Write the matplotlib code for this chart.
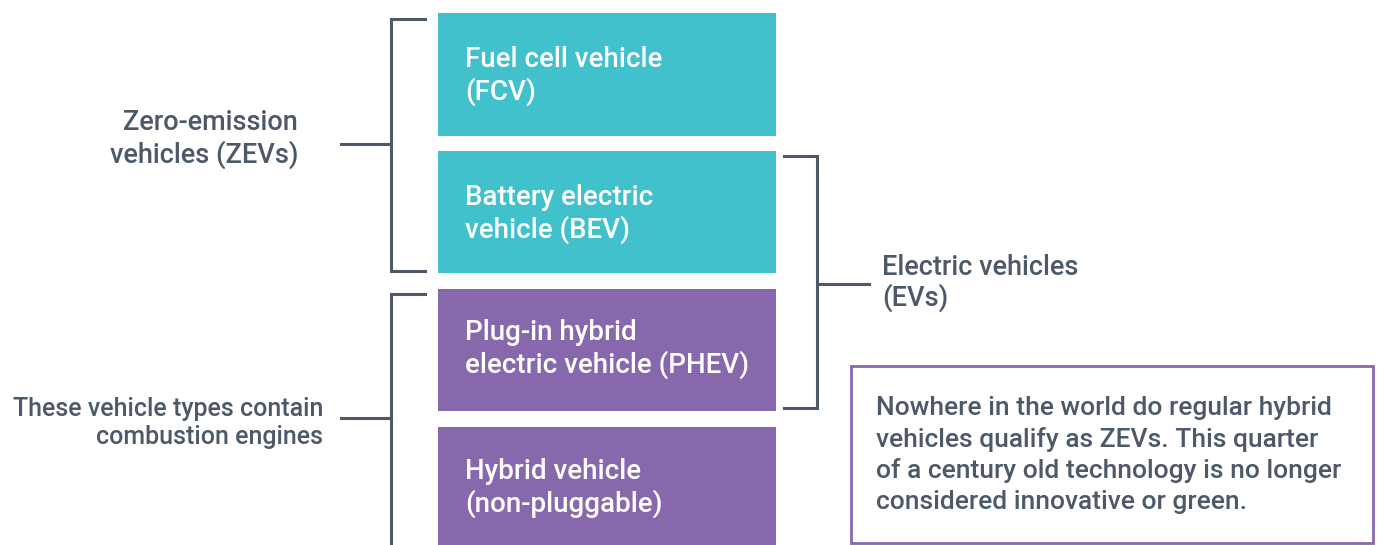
import matplotlib
matplotlib.use("Agg")
import matplotlib.pyplot as plt
from matplotlib.patches import Rectangle

# ---- content ----
box_labels = ["Fuel cell vehicle\n(FCV)",
              "Battery electric\nvehicle (BEV)",
              "Plug-in hybrid\nelectric vehicle (PHEV)",
              "Hybrid vehicle\n(non-pluggable)"]
box_groups = ["zev", "zev", "combustion", "combustion"]
group_colors = {"zev": "#41C1CB", "combustion": "#8868AC"}
zev_label = "Zero-emission\nvehicles (ZEVs)"
combustion_label = "These vehicle types contain\ncombustion engines"
ev_label = "Electric vehicles\n(EVs)"
note_text = ("Nowhere in the world do regular hybrid\n"
             "vehicles qualify as ZEVs. This quarter\n"
             "of a century old technology is no longer\n"
             "considered innovative or green.")

# ---- layout (pixels) ----
W, H = 1377, 545
box_x0, box_x1 = 438, 776
box_tops = [13, 151, 289, 427]
box_bots = [136, 273, 411, 560]
text_centers = [76, 214, 349, 488]
dark = "#4B5969"
font = "Roboto"

fig = plt.figure(figsize=(W / 100, H / 100), dpi=100)
ax = fig.add_axes([0, 0, 1, 1])
ax.set_xlim(0, W)
ax.set_ylim(H, 0)
ax.axis("off")

for lab, grp, t, b, c in zip(box_labels, box_groups, box_tops, box_bots,
                             text_centers):
    ax.add_patch(Rectangle((box_x0, t), box_x1 - box_x0, b - t,
                           facecolor=group_colors[grp], edgecolor="none"))
    ax.text(465, c, lab, color="white", fontsize=20, family=font,
            weight="medium", ha="left", va="center", linespacing=1.22)

lw = 2.2
# ZEV bracket
ax.plot([425, 391, 391, 425], [19, 19, 271, 271], color=dark, lw=lw,
        solid_joinstyle="miter")
ax.plot([341, 391], [144, 144], color=dark, lw=lw)
ax.text(298, 139, zev_label, color=dark, fontsize=19.5, family=font,
        weight="medium", ha="right", va="center", multialignment="right",
        linespacing=1.18)

# combustion bracket
ax.plot([425, 391, 391], [294, 294, 560], color=dark, lw=lw,
        solid_joinstyle="miter")
ax.plot([341, 391], [418, 418], color=dark, lw=lw)
ax.text(323, 423, combustion_label, color=dark, fontsize=18, family=font,
        weight="medium", ha="right", va="center", multialignment="right",
        linespacing=1.25)

# EV bracket
ax.plot([784, 817, 817, 784], [156, 156, 408, 408], color=dark, lw=lw,
        solid_joinstyle="miter")
ax.plot([817, 869], [284, 284], color=dark, lw=lw)
ax.text(882, 283, ev_label, color=dark, fontsize=19.5, family=font,
        weight="medium", ha="left", va="center", linespacing=1.12)

# note box
ax.add_patch(Rectangle((851, 366), 1373 - 851, 543 - 366, facecolor="white",
                       edgecolor="#8868AC", lw=2))
ax.text(876, 455, note_text, color=dark, fontsize=19, family=font,
        weight="medium", ha="left", va="center", linespacing=1.33)

fig.savefig("out.png", dpi=100)
